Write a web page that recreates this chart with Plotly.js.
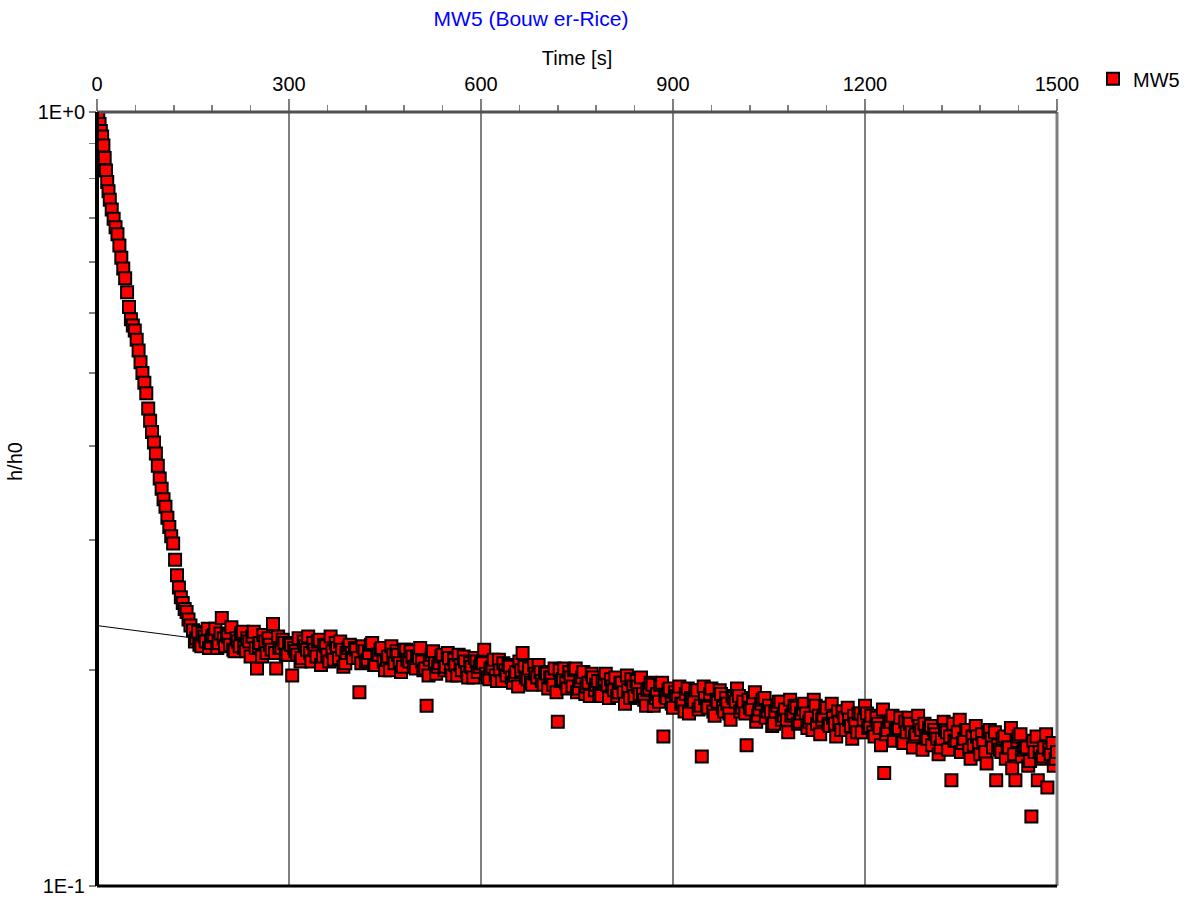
<!DOCTYPE html>
<html>
<head>
<meta charset="utf-8">
<script src="https://cdn.plot.ly/plotly-3.0.1.min.js"></script>
<style>html,body{margin:0;padding:0;background:#fff;}#chart{width:1197px;height:898px;}</style>
</head>
<body>
<div id="chart"></div>
<script>
// Early (recovery) portion of MW5 slug test
var timeEarly = [0,2,4,6,8,10,12,14,16,18,20,23,26,29,32,35,38,41,44,47,50,53,56,59,62,65,68,71,74,77,80,83,86,89,92,95,98,101,104,107,110,113,116,119,122,125,128,131,134,137,140,143,146];
var ratioEarly = [1.0,0.985,0.965,0.945,0.93,0.905,0.872,0.84,0.812,0.79,0.77,0.748,0.728,0.71,0.695,0.672,0.648,0.628,0.61,0.585,0.56,0.54,0.53,0.522,0.508,0.492,0.475,0.46,0.447,0.433,0.414,0.399,0.386,0.374,0.362,0.349,0.336,0.326,0.316,0.309,0.299,0.291,0.283,0.277,0.264,0.252,0.243,0.236,0.232,0.228,0.226,0.221,0.217];

// Late (noisy tail) portion, readings A
var timeLateA = [150,155,160,165,170,175,180,185,190,195,
200,205,210,215,220,225,230,235,240,245,
250,255,260,265,270,275,280,285,290,295,
300,305,310,315,320,325,330,335,340,345,
350,355,360,365,370,375,380,385,390,395,
400,405,410,415,420,425,430,435,440,445,
450,455,460,465,470,475,480,485,490,495,
500,505,510,515,520,525,530,535,540,545,
550,555,560,565,570,575,580,585,590,595,
600,605,610,615,620,625,630,635,640,645,
650,655,660,665,670,675,680,685,690,695,
700,705,710,715,720,725,730,735,740,745,
750,755,760,765,770,775,780,785,790,795,
800,805,810,815,820,825,830,835,840,845,
850,855,860,865,870,875,880,885,890,895,
900,905,910,915,920,925,930,935,940,945,
950,955,960,965,970,975,980,985,990,995,
1000,1005,1010,1015,1020,1025,1030,1035,1040,1045,
1050,1055,1060,1065,1070,1075,1080,1085,1090,1095,
1100,1105,1110,1115,1120,1125,1130,1135,1140,1145,
1150,1155,1160,1165,1170,1175,1180,1185,1190,1195,
1200,1205,1210,1215,1220,1225,1230,1235,1240,1245,
1250,1255,1260,1265,1270,1275,1280,1285,1290,1295,
1300,1305,1310,1315,1320,1325,1330,1335,1340,1345,
1350,1355,1360,1365,1370,1375,1380,1385,1390,1395,
1400,1405,1410,1415,1420,1425,1430,1435,1440,1445,
1450,1455,1460,1465,1470,1475,1480,1485,1490,1495,
1500];
var ratioLateA = [0.214,0.209,0.205,0.212,0.207,0.203,0.210,0.215,0.206,0.222,
0.204,0.210,0.216,0.201,0.207,0.212,0.203,0.209,0.198,0.213,
0.191,0.206,0.211,0.200,0.205,0.218,0.191,0.203,0.208,0.199,
0.206,0.187,0.201,0.209,0.197,0.204,0.210,0.195,0.202,0.207,
0.193,0.205,0.199,0.210,0.196,0.203,0.207,0.192,0.200,0.205,
0.197,0.202,0.178,0.204,0.195,0.200,0.206,0.193,0.199,0.203,
0.190,0.198,0.204,0.194,0.199,0.189,0.202,0.196,0.201,0.192,
0.197,0.203,0.190,0.171,0.196,0.201,0.188,0.194,0.199,0.192,
0.197,0.187,0.193,0.199,0.190,0.195,0.186,0.192,0.197,0.189,
0.194,0.202,0.186,0.191,0.196,0.184,0.190,0.194,0.187,0.192,
0.183,0.189,0.195,0.200,0.186,0.191,0.182,0.188,0.193,0.184,
0.189,0.180,0.186,0.191,0.163,0.184,0.191,0.180,0.186,0.190,
0.178,0.184,0.189,0.181,0.176,0.186,0.182,0.177,0.184,0.188,
0.175,0.181,0.186,0.178,0.183,0.172,0.179,0.185,0.176,0.181,
0.186,0.174,0.179,0.183,0.171,0.177,0.182,0.156,0.175,0.180,
0.170,0.176,0.181,0.172,0.177,0.167,0.174,0.179,0.169,0.147,
0.175,0.170,0.180,0.166,0.173,0.177,0.168,0.172,0.164,0.175,
0.180,0.168,0.173,0.152,0.170,0.175,0.163,0.169,0.174,0.165,
0.171,0.161,0.168,0.173,0.164,0.169,0.158,0.166,0.171,0.162,
0.167,0.172,0.160,0.165,0.174,0.162,0.157,0.166,0.170,0.161,
0.165,0.156,0.163,0.168,0.159,0.164,0.155,0.162,0.167,0.158,
0.171,0.160,0.166,0.156,0.162,0.152,0.140,0.159,0.163,0.154,
0.160,0.165,0.153,0.158,0.162,0.151,0.157,0.161,0.150,0.156,
0.160,0.152,0.157,0.148,0.155,0.159,0.150,0.137,0.154,0.158,
0.149,0.155,0.159,0.146,0.152,0.156,0.148,0.153,0.144,0.159,
0.151,0.137,0.150,0.155,0.146,0.151,0.142,0.137,0.156,0.147,
0.151,0.143,0.123,0.149,0.137,0.146,0.151,0.134,0.148,0.143,
0.149];

// Late (noisy tail) portion, readings B (between readings A)
var timeLateB = [153,158,163,168,173,178,183,188,193,198,
203,208,213,218,223,228,233,238,243,248,
253,258,263,268,273,278,283,288,293,298,
303,308,313,318,323,328,333,338,343,348,
353,358,363,368,373,378,383,388,393,398,
403,408,413,418,423,428,433,438,443,448,
453,458,463,468,473,478,483,488,493,498,
503,508,513,518,523,528,533,538,543,548,
553,558,563,568,573,578,583,588,593,598,
603,608,613,618,623,628,633,638,643,648,
653,658,663,668,673,678,683,688,693,698,
703,708,713,718,723,728,733,738,743,748,
753,758,763,768,773,778,783,788,793,798,
803,808,813,818,823,828,833,838,843,848,
853,858,863,868,873,878,883,888,893,898,
903,908,913,918,923,928,933,938,943,948,
953,958,963,968,973,978,983,988,993,998,
1003,1008,1013,1018,1023,1028,1033,1038,1043,1048,
1053,1058,1063,1068,1073,1078,1083,1088,1093,1098,
1103,1108,1113,1118,1123,1128,1133,1138,1143,1148,
1153,1158,1163,1168,1173,1178,1183,1188,1193,1198,
1203,1208,1213,1218,1223,1228,1233,1238,1243,1248,
1253,1258,1263,1268,1273,1278,1283,1288,1293,1298,
1303,1308,1313,1318,1323,1328,1333,1338,1343,1348,
1353,1358,1363,1368,1373,1378,1383,1388,1393,1398,
1403,1408,1413,1418,1423,1428,1433,1438,1443,1448,
1453,1458,1463,1468,1473,1478,1483,1488,1493,1498];
var ratioLateB = [0.207,0.213,0.204,0.210,0.215,0.206,0.211,0.203,0.212,0.209,
0.211,0.205,0.202,0.209,0.204,0.213,0.201,0.207,0.210,0.203,
0.204,0.198,0.207,0.209,0.202,0.200,0.210,0.203,0.206,0.199,
0.205,0.203,0.199,0.195,0.207,0.202,0.200,0.206,0.198,0.208,
0.198,0.204,0.195,0.201,0.206,0.197,0.202,0.194,0.203,0.200,
0.203,0.197,0.194,0.201,0.196,0.205,0.193,0.199,0.202,0.195,
0.196,0.190,0.199,0.201,0.194,0.192,0.202,0.195,0.198,0.191,
0.197,0.195,0.191,0.187,0.199,0.194,0.192,0.198,0.190,0.200,
0.190,0.196,0.187,0.193,0.198,0.189,0.194,0.186,0.195,0.192,
0.194,0.188,0.185,0.192,0.187,0.196,0.184,0.190,0.193,0.186,
0.187,0.181,0.190,0.192,0.185,0.183,0.193,0.186,0.189,0.182,
0.188,0.186,0.182,0.178,0.190,0.185,0.183,0.189,0.181,0.191,
0.180,0.186,0.177,0.183,0.188,0.179,0.184,0.176,0.185,0.182,
0.185,0.179,0.176,0.183,0.178,0.187,0.175,0.181,0.184,0.177,
0.177,0.171,0.180,0.182,0.175,0.173,0.183,0.176,0.179,0.172,
0.178,0.176,0.172,0.168,0.180,0.175,0.173,0.179,0.171,0.181,
0.171,0.177,0.168,0.174,0.179,0.170,0.175,0.167,0.176,0.173,
0.176,0.170,0.167,0.174,0.169,0.178,0.166,0.172,0.175,0.168,
0.168,0.162,0.171,0.173,0.166,0.164,0.174,0.167,0.170,0.163,
0.169,0.167,0.163,0.159,0.171,0.166,0.164,0.170,0.162,0.172,
0.162,0.168,0.159,0.165,0.170,0.161,0.166,0.158,0.167,0.164,
0.167,0.161,0.158,0.165,0.160,0.169,0.157,0.163,0.166,0.159,
0.160,0.154,0.163,0.165,0.158,0.156,0.166,0.159,0.162,0.155,
0.161,0.159,0.155,0.151,0.163,0.158,0.156,0.162,0.154,0.164,
0.153,0.159,0.150,0.156,0.161,0.152,0.157,0.149,0.158,0.155,
0.158,0.152,0.149,0.156,0.151,0.160,0.148,0.154,0.157,0.150,
0.151,0.145,0.154,0.156,0.149,0.147,0.157,0.150,0.153,0.146];

// Bouwer-Rice straight-line fit
var fitTime = [0, 1500];
var fitRatio = [0.217, 0.150];

// Axis ticks
var xTickVals = [0, 300, 600, 900, 1200, 1500];
var yTickVals = [0.1, 0.19, 0.28, 0.37, 0.46, 0.55, 0.64, 0.73, 0.82, 0.91, 1.0];
var yTickText = ['1E-1', '', '', '', '', '', '', '', '', '', '1E+0'];

// merge readings in time order for the single MW5 series
var pairs = [];
[[timeEarly, ratioEarly], [timeLateA, ratioLateA], [timeLateB, ratioLateB]].forEach(function (p) {
  for (var i = 0; i < p[0].length; i++) pairs.push([p[0][i], p[1][i]]);
});
pairs.sort(function (a, b) { return a[0] - b[0]; });
var timeAll = pairs.map(function (p) { return p[0]; });
var ratioAll = pairs.map(function (p) { return p[1]; });

var traces = [
  {
    x: fitTime, y: fitRatio, type: 'scatter', mode: 'lines',
    line: {color: '#000000', width: 1}, showlegend: false, hoverinfo: 'skip'
  },
  {
    x: timeAll, y: ratioAll, type: 'scatter', mode: 'markers', name: 'MW5',
    marker: {symbol: 'square', size: 12, color: '#FF0000', line: {color: '#000000', width: 2}}
  }
];

var font = 'Liberation Sans, Arial, sans-serif';

var layout = {
  width: 1197, height: 898,
  margin: {l: 97, r: 140, t: 112, b: 12, pad: 0},
  paper_bgcolor: '#ffffff', plot_bgcolor: '#ffffff',
  font: {family: font, size: 20, color: '#000000'},
  title: {
    text: 'MW5 (Bouw er-Rice)', font: {family: font, size: 21, color: '#0000FF'},
    x: 531 / 1197, xref: 'container', xanchor: 'center',
    y: 1 - 19 / 898, yref: 'container', yanchor: 'middle'
  },
  xaxis: {
    side: 'top', range: [0, 1500], tickmode: 'array', tickvals: xTickVals,
    ticks: 'outside', ticklen: 12, tickwidth: 2, tickcolor: '#808080',
    showgrid: true, gridcolor: '#808080', gridwidth: 2,
    zeroline: false, showline: false,
    tickfont: {family: font, size: 20, color: '#000000'},
    title: {text: 'Time [s]', font: {family: font, size: 20, color: '#000000'}, standoff: 2},
    minor: {dtick: 60, tick0: 0, ticks: 'outside', ticklen: 6, tickwidth: 1.5, tickcolor: '#808080', showgrid: false},
    automargin: false, fixedrange: true
  },
  yaxis: {
    type: 'log', range: [-1, 0], tickmode: 'array', tickvals: yTickVals, ticktext: yTickText,
    ticks: 'outside', ticklen: 7, tickwidth: 1.5, tickcolor: '#808080',
    showgrid: false, zeroline: false, showline: false,
    tickfont: {family: font, size: 20, color: '#000000'},
    automargin: false, fixedrange: true
  },
  legend: {
    x: 1.0375, y: 1.068, xanchor: 'left', yanchor: 'top',
    font: {family: font, size: 20, color: '#000000'},
    bgcolor: 'rgba(0,0,0,0)', borderwidth: 0
  },
  annotations: [
    {text: 'h/h0', xref: 'paper', yref: 'paper', x: (15 - 97) / 960, y: (886 - 462) / 774,
     xanchor: 'center', yanchor: 'middle', textangle: -90, showarrow: false,
     font: {family: font, size: 20, color: '#000000'}}
  ],
  shapes: [
    {type: 'line', xref: 'paper', yref: 'paper', x0: 1, x1: 1, y0: 0, y1: 1, line: {color: '#808080', width: 3}},
    {type: 'line', xref: 'paper', yref: 'paper', x0: 0, x1: 1, y0: 1, y1: 1, line: {color: '#505050', width: 3}},
    {type: 'line', xref: 'paper', yref: 'paper', x0: 0, x1: 1, y0: 0, y1: 0, line: {color: '#000000', width: 3}},
    {type: 'line', xref: 'paper', yref: 'paper', x0: 0, x1: 0, y0: 0, y1: 1, line: {color: '#000000', width: 4}}
  ]
};

Plotly.newPlot('chart', traces, layout, {displayModeBar: false, staticPlot: true});
</script>
</body>
</html>
